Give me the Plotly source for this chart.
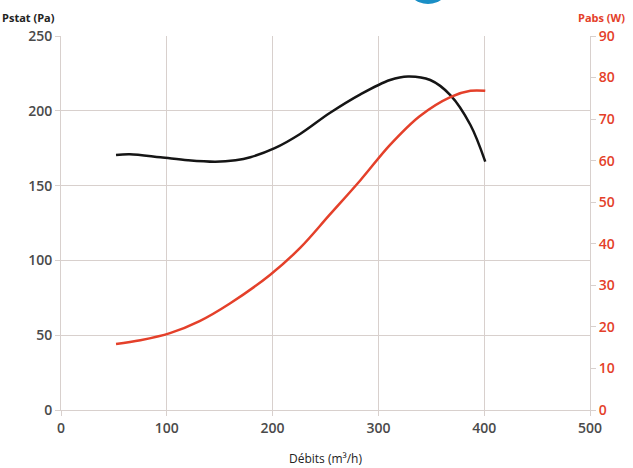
import plotly.graph_objects as go

# Pstat (Pa) curve
pstat_x = [52, 65, 94, 120, 146, 165, 179, 202, 226, 254, 283, 311, 328, 349, 368, 387, 401]
pstat_y = [170.5, 171, 169, 167, 166, 167, 169, 175, 184.5, 198.5, 211, 220.6, 223, 220.6, 210.5, 190.5, 166]

# Pabs (W) curve
pabs_x = [52, 75, 103, 131, 160, 197.5, 226, 254, 283, 311, 339, 368, 387, 401]
pabs_y = [15.9, 16.8, 18.5, 21.4, 25.7, 32.5, 39, 47, 55.3, 63.8, 70.7, 75.3, 76.8, 76.8]

x_ticks = [0, 100, 200, 300, 400, 500]
pa_ticks = [0, 50, 100, 150, 200, 250]
w_ticks = [0, 10, 20, 30, 40, 50, 60, 70, 80, 90]

RED = "#e4402a"
GRID = "#d8d0cd"
TXT = "#4a4a4a"
FONT = "Open Sans"

fig = go.Figure()
fig.add_trace(go.Scatter(x=pstat_x, y=pstat_y, mode="lines", line=dict(color="#151515", width=2.5, shape="spline", smoothing=1.0),
                         yaxis="y", showlegend=False))
fig.add_trace(go.Scatter(x=pabs_x, y=pabs_y, mode="lines", line=dict(color=RED, width=2.5, shape="spline", smoothing=1.0),
                         yaxis="y2", showlegend=False))

W, H = 633, 468
ml, mr, mt, mb = 61, 43, 36, 58

fig.update_layout(
    width=W, height=H,
    margin=dict(l=ml, r=mr, t=mt, b=mb, autoexpand=False),
    paper_bgcolor="white", plot_bgcolor="white",
    font=dict(family=FONT, color=TXT),
    xaxis=dict(range=[0, 500], tickvals=x_ticks, showgrid=True, gridcolor=GRID, gridwidth=1.3,
               zeroline=False, showline=True, linecolor=GRID, mirror=False, automargin=False,
               ticks="outside", ticklen=5, tickcolor=GRID,
               tickfont=dict(family=FONT, size=14, color=TXT, weight=600),
               title=dict(text="Débits (m³/h)", font=dict(family=FONT, size=12, color="#222"), standoff=18)),
    yaxis=dict(range=[0, 250], tickvals=pa_ticks, showgrid=True, gridcolor=GRID, gridwidth=1.3,
               zeroline=False, showline=True, linecolor=GRID, automargin=False,
               ticks="outside", ticklen=5, tickcolor=GRID,
               tickfont=dict(family=FONT, size=14, color=TXT, weight=600)),
    yaxis2=dict(range=[0, 90], tickvals=w_ticks, overlaying="y", side="right", showgrid=False,
                zeroline=False, showline=True, linecolor=GRID, automargin=False,
                ticks="outside", ticklen=5, tickcolor=GRID,
                tickfont=dict(family=FONT, size=14, color=RED, weight=600)),
    annotations=[
        dict(text="Pstat (Pa)", xref="paper", yref="paper", x=-61/(W-ml-mr), y=1 + 19/(H-mt-mb),
             xanchor="left", yanchor="middle", showarrow=False,
             font=dict(family=FONT, size=11, color="#222", weight=700)),
        dict(text="Pabs (W)", xref="paper", yref="paper", x=1 + 37/(W-ml-mr), y=1 + 19/(H-mt-mb),
             xanchor="right", yanchor="middle", showarrow=False,
             font=dict(family=FONT, size=11, color=RED, weight=700)),
    ],
    shapes=[
        dict(type="circle", xref="paper", yref="paper", fillcolor="#1a8fc6", line=dict(width=0),
             x0=(405-ml)/(W-ml-mr), x1=(451-ml)/(W-ml-mr),
             y0=1 + (mt-4)/(H-mt-mb), y1=1 + (mt+42)/(H-mt-mb), layer="above"),
    ],
)

fig.write_html("out.html", config={"displayModeBar": False},
               post_script="document.body.style.margin='0';document.body.style.overflow='hidden';")
